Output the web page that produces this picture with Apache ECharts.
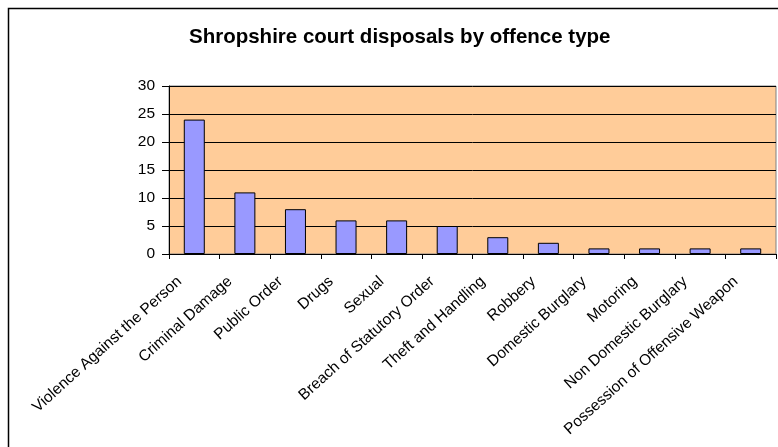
<!DOCTYPE html>
<html><head><meta charset="utf-8">
<script src="https://cdn.jsdelivr.net/npm/echarts@6/dist/echarts.min.js"></script>
<style>html,body{margin:0;padding:0;background:#fff}#c{width:778px;height:447px}</style>
</head><body><div id="c"></div>
<script>
const categories = ["Violence Against the Person","Criminal Damage","Public Order","Drugs","Sexual","Breach of Statutory Order","Theft and Handling","Robbery","Domestic Burglary","Motoring","Non Domestic Burglary","Possession of Offensive Weapon"];
const values = [24, 11, 8, 6, 6, 5, 3, 2, 1, 1, 1, 1];
const chartTitle = "Shropshire court disposals by offence type";

const chart = echarts.init(document.getElementById('c'), null, {renderer:'canvas'});
chart.setOption({
  animation: false,
  backgroundColor: '#fff',
  graphic: [{type:'rect', shape:{x:8.5,y:8.5,width:790,height:450}, style:{fill:'none', stroke:'#000', lineWidth:1.5}, z:-1}],
  title: {text: chartTitle, left: 184, top: 22, textStyle:{fontFamily:'Liberation Sans, Arial', fontSize:20.5, fontWeight:'bold', color:'#000'}},
  grid: {left:169, top:86, width:607, height:168, show:true, backgroundColor:'#FFCC99', borderColor:'#808080', borderWidth:1},
  xAxis: {type:'category', data: categories,
    axisLine:{show:true, lineStyle:{color:'#000', width:1}},
    axisTick:{show:true, length:5, alignWithLabel:false, lineStyle:{color:'#000'}},
    axisLabel:{rotate:42, interval:0, margin:12, padding:[0,20,0,0], color:'#000', fontFamily:'Liberation Sans, Arial', fontSize:15.5}},
  yAxis: {type:'value', min:0, max:30, interval:5,
    axisLine:{show:true, lineStyle:{color:'#000'}},
    axisTick:{show:true, length:7, lineStyle:{color:'#000'}},
    axisLabel:{color:'#000', fontFamily:'Liberation Sans, Arial', fontSize:15.5, margin:14},
    splitLine:{show:true, lineStyle:{color:'#000', width:1}}},
  series: [{type:'bar', data: values, barWidth:'41.5%',
    itemStyle:{color:'#9999FF', borderColor:'#000', borderWidth:1}}]
});
</script></body></html>
